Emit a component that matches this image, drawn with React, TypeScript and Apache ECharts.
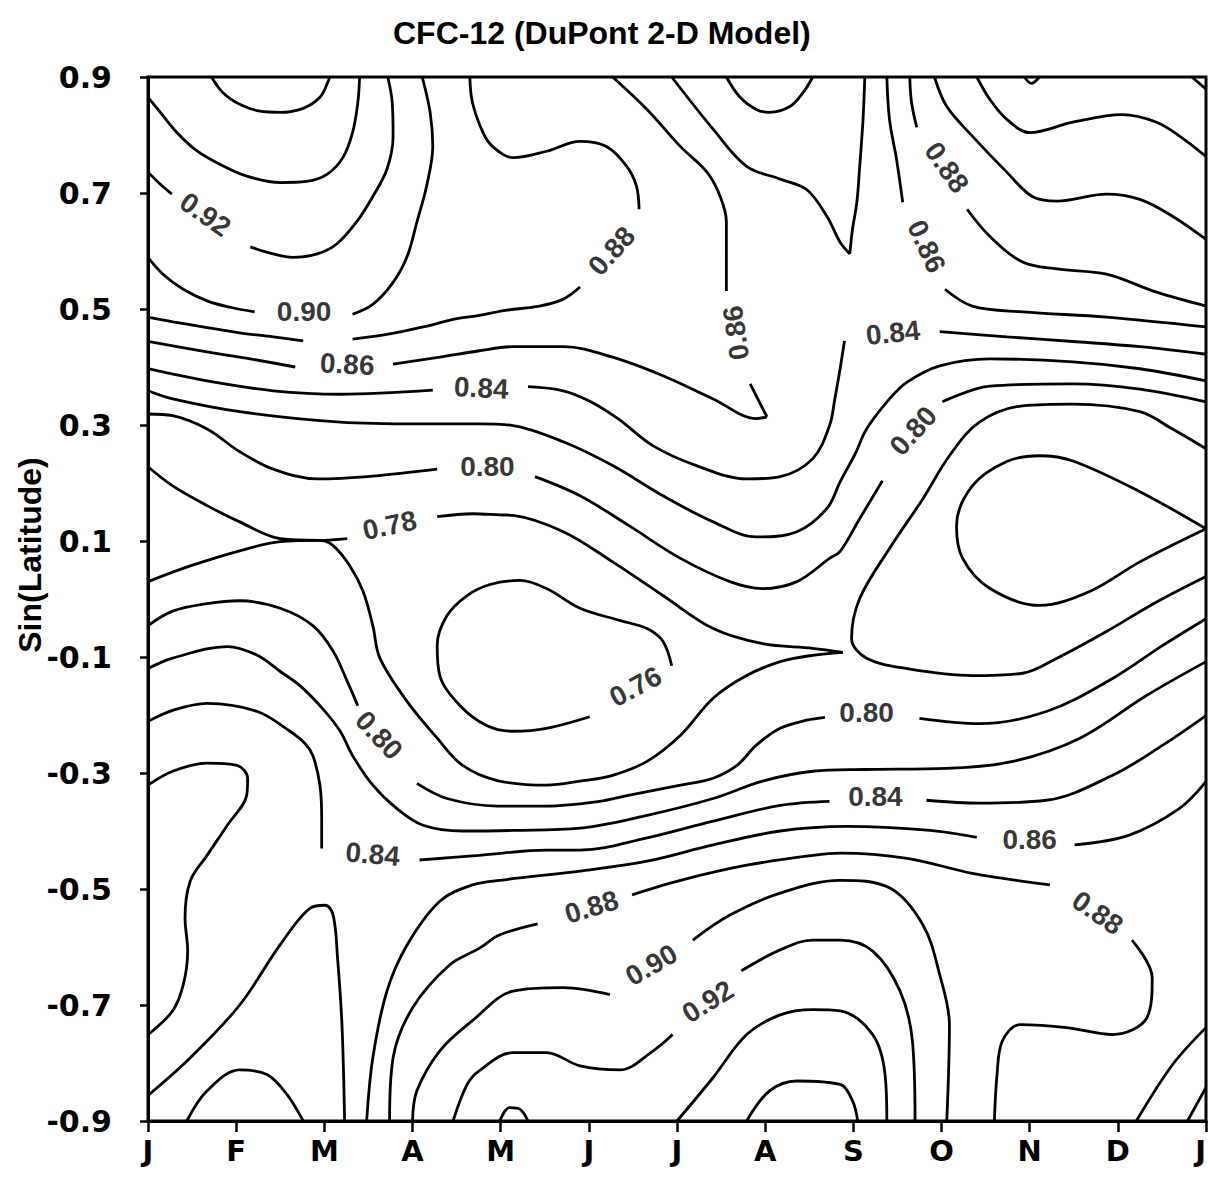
import React, { useEffect, useRef } from 'react';
import * as echarts from 'echarts';

// ---- axes ----
const monthTicks = ['J', 'F', 'M', 'A', 'M', 'J', 'J', 'A', 'S', 'O', 'N', 'D', 'J'];
const latMin = -0.9;
const latMax = 0.9;
const latStep = 0.2;

// ---- contour segments: [month index, sin(latitude)] ----
// upper-left high (F, top)
const c096TopLeft = [[0.72, 0.9], [0.85, 0.873], [1.04, 0.853], [1.27, 0.841], [1.5, 0.839], [1.76, 0.846], [1.95, 0.865], [2.04, 0.891], [2.06, 0.9]];
const c094TopLeft = [[0, 0.865], [0.14, 0.839], [0.33, 0.804], [0.56, 0.772], [0.82, 0.749], [1.12, 0.729], [1.5, 0.718], [1.8, 0.72], [2.03, 0.732], [2.21, 0.761], [2.32, 0.804], [2.38, 0.856], [2.4, 0.9]];
const c092TopA = [[0, 0.736], [0.14, 0.715], [0.27, 0.698]];
const c092TopB = [[1.16, 0.607], [1.42, 0.595], [1.64, 0.589], [1.92, 0.595], [2.14, 0.612], [2.37, 0.651], [2.55, 0.694], [2.71, 0.741], [2.78, 0.798], [2.77, 0.856], [2.72, 0.9]];
const c090TopA = [[0, 0.589], [0.17, 0.56], [0.4, 0.534], [0.67, 0.514], [0.93, 0.503], [1.21, 0.495]];
const c090TopB = [[2.32, 0.491], [2.55, 0.508], [2.78, 0.546], [2.94, 0.591], [3.05, 0.65], [3.16, 0.712], [3.23, 0.78], [3.2, 0.839], [3.11, 0.9]];
const c088TopUpper = [[3.65, 0.9], [3.68, 0.856], [3.8, 0.804], [3.91, 0.78], [4.14, 0.761], [4.52, 0.772], [4.9, 0.789], [5.2, 0.78], [5.43, 0.746], [5.54, 0.712], [5.57, 0.672]];
const c088TopMid = [[4.9, 0.538], [4.71, 0.517], [4.44, 0.505], [4.07, 0.498], [3.76, 0.489], [3.49, 0.483], [3.12, 0.469], [2.74, 0.457], [2.32, 0.448]];
const c088TopLeft = [[0, 0.486], [0.28, 0.478], [0.67, 0.468], [1.04, 0.459], [1.42, 0.452], [1.76, 0.445]];
const c086TopA = [[0, 0.444], [0.67, 0.426], [1.16, 0.414], [1.67, 0.4]];
const c086TopB = [[2.78, 0.405], [3.31, 0.417], [3.76, 0.428], [4.14, 0.435], [4.71, 0.435], [5.27, 0.417], [5.84, 0.385], [6.41, 0.345], [6.9, 0.311], [7.02, 0.314]];
const c086TopTip = [[7.02, 0.314], [6.83, 0.371]];
const c086TopC = [[6.56, 0.531], [6.56, 0.591], [6.56, 0.65], [6.49, 0.694], [6.34, 0.736], [6.04, 0.78], [5.66, 0.844], [5.27, 0.9]];
const c084A = [[0, 0.397], [0.67, 0.376], [1.42, 0.359], [2.18, 0.353], [3.23, 0.36]];
const c084B = [[4.31, 0.366], [4.71, 0.359], [5.01, 0.341], [5.33, 0.311], [5.73, 0.264], [6.22, 0.23], [6.79, 0.207], [7.17, 0.211], [7.54, 0.242], [7.73, 0.299], [7.79, 0.345], [7.85, 0.397], [7.9, 0.445]];
const c084C = [[8.98, 0.461], [9.74, 0.452], [10.49, 0.444], [11.25, 0.435], [12, 0.422]];
const c084VLeft = [[5.94, 0.9], [6.41, 0.81], [6.79, 0.746], [7.17, 0.724], [7.47, 0.706], [7.7, 0.66], [7.85, 0.615], [7.96, 0.595]];
const c084VRight = [[7.96, 0.595], [7.99, 0.637], [8.04, 0.684], [8.07, 0.741], [8.11, 0.827], [8.13, 0.9]];
const c082TopArc = [[6.56, 0.9], [6.71, 0.866], [6.9, 0.844], [7.05, 0.839], [7.28, 0.849], [7.43, 0.873], [7.54, 0.9]];
// upper right
const c086RightTop = [[8.38, 0.9], [8.41, 0.827], [8.49, 0.758], [8.56, 0.684]];
const c086RightB = [[9.04, 0.534], [9.35, 0.505], [9.92, 0.495], [10.87, 0.486], [12, 0.469]];
const c088RightTop = [[8.64, 0.9], [8.66, 0.856], [8.72, 0.813]];
const c088RightB = [[9.29, 0.672], [9.55, 0.625], [9.92, 0.581], [10.31, 0.569], [10.87, 0.56], [11.44, 0.529], [12, 0.505]];
const c090Right = [[8.92, 0.9], [9.06, 0.849], [9.35, 0.798], [9.74, 0.736], [10.03, 0.694], [10.31, 0.686], [10.87, 0.698], [11.25, 0.689], [11.62, 0.66], [12, 0.62]];
const c092Right = [[9.4, 0.9], [9.55, 0.861], [9.74, 0.827], [10.0, 0.804], [10.49, 0.822], [11.05, 0.835], [11.44, 0.822], [11.7, 0.798], [12, 0.763]];
const cTopNotch = [[9.94, 0.9], [10.02, 0.889], [10.11, 0.9]];
const cTopCorner = [[11.84, 0.9], [12, 0.879]];
// middle band
const c082Upper = [[0, 0.359], [0.28, 0.345], [1.04, 0.323], [2.18, 0.305], [3.08, 0.302], [3.76, 0.302], [4.14, 0.299], [4.71, 0.271], [5.27, 0.23], [5.84, 0.178], [6.41, 0.133], [6.9, 0.107], [7.36, 0.116], [7.7, 0.156], [7.85, 0.202], [8.02, 0.25], [8.15, 0.293], [8.41, 0.345], [8.61, 0.374], [8.98, 0.402], [9.55, 0.414], [10.49, 0.409], [11.25, 0.397], [12, 0.376]];
const c080UpperA = [[0, 0.319], [0.28, 0.316], [0.67, 0.293], [1.04, 0.254], [1.42, 0.224], [1.92, 0.207], [2.55, 0.212], [3.28, 0.224]];
const c080UpperB = [[4.39, 0.211], [4.9, 0.178], [5.46, 0.126], [6.04, 0.07], [6.6, 0.03], [6.97, 0.018], [7.36, 0.03], [7.73, 0.07], [7.85, 0.082], [8.07, 0.138], [8.33, 0.204]];
const c080UpperC = [[9.01, 0.34], [9.55, 0.367], [10.49, 0.371], [11.25, 0.362], [12, 0.34]];
const c078Upper = [[0, 0.228], [0.28, 0.195], [0.67, 0.161], [1.04, 0.133], [1.5, 0.104], [1.95, 0.101], [2.26, 0.104]];
const c078Mid = [[3.28, 0.142], [3.68, 0.147], [3.99, 0.145], [4.14, 0.144], [4.71, 0.116], [5.27, 0.064], [5.84, 0.006], [6.41, -0.051], [6.97, -0.077], [7.54, -0.085], [7.88, -0.092]];
const c078Lower = [[0, 0.03], [0.48, 0.057], [1.04, 0.083], [1.5, 0.099], [1.95, 0.101], [2.1, 0.092], [2.29, 0.057], [2.44, 0.013], [2.55, -0.046], [2.63, -0.102], [2.94, -0.177], [3.28, -0.24], [3.57, -0.287], [3.96, -0.313], [4.52, -0.321], [4.9, -0.314], [5.27, -0.304], [5.66, -0.28], [6.04, -0.235], [6.41, -0.171], [6.79, -0.132], [7.17, -0.108], [7.54, -0.097], [7.88, -0.092]];
const c076Loop = [[5.01, -0.203], [4.52, -0.223], [4.14, -0.228], [3.84, -0.218], [3.54, -0.184], [3.31, -0.132], [3.28, -0.08], [3.39, -0.029], [3.62, 0.006], [3.88, 0.025], [4.22, 0.032], [4.52, 0.018], [4.9, -0.016], [5.35, -0.037], [5.66, -0.051], [5.84, -0.073], [5.94, -0.115]];
const c078RightLoop = [[12, 0.259], [11.62, 0.293], [11.25, 0.323], [10.49, 0.336], [9.92, 0.333], [9.43, 0.305], [9.09, 0.247], [8.79, 0.173], [8.41, 0.087], [8.07, 0.0], [7.98, -0.068], [8.15, -0.102], [8.61, -0.12], [9.35, -0.132], [9.92, -0.128], [10.31, -0.102], [10.87, -0.056], [11.44, -0.005], [12, 0.039]];
const c076RightLoop = [[12, 0.121], [11.25, 0.185], [10.49, 0.238], [10.11, 0.247], [9.74, 0.237], [9.35, 0.195], [9.17, 0.126], [9.24, 0.07], [9.55, 0.018], [10.11, -0.011], [10.68, 0.013], [11.25, 0.064], [12, 0.121]];
const c080LowerA = [[0, -0.046], [0.28, -0.021], [0.67, -0.008], [1.04, -0.003], [1.5, -0.016], [1.87, -0.046], [2.1, -0.09], [2.26, -0.142], [2.38, -0.184]];
const c080LowerB = [[3.05, -0.318], [3.39, -0.344], [3.96, -0.357], [4.52, -0.357], [5.12, -0.349], [5.46, -0.338], [6.04, -0.321], [6.41, -0.309], [6.68, -0.287], [6.9, -0.252], [7.17, -0.223], [7.47, -0.209], [7.68, -0.204]];
const c080LowerC = [[8.75, -0.206], [9.43, -0.215], [10.19, -0.194], [10.94, -0.137], [11.51, -0.08], [12, -0.034]];
const c082Lower = [[0, -0.12], [0.28, -0.102], [0.9, -0.082], [1.24, -0.097], [1.5, -0.125], [1.72, -0.149], [1.98, -0.189], [2.18, -0.228], [2.32, -0.27], [2.55, -0.321], [2.82, -0.361], [3.12, -0.39], [3.57, -0.4], [4.14, -0.399], [4.9, -0.395], [5.66, -0.373], [6.41, -0.344], [6.97, -0.314], [7.54, -0.297], [8.11, -0.294], [9.06, -0.292], [9.81, -0.28], [10.57, -0.24], [11.33, -0.166], [12, -0.108]];
const c084LowerA = [[0, -0.211], [0.28, -0.192], [0.67, -0.18], [1.24, -0.194], [1.61, -0.228], [1.78, -0.249], [1.87, -0.27], [1.95, -0.321], [1.97, -0.378], [1.97, -0.43]];
const c084LowerB = [[3.08, -0.45], [3.76, -0.442], [4.52, -0.433], [4.9, -0.433], [5.66, -0.412], [6.41, -0.383], [7.17, -0.356], [7.73, -0.349]];
const c084LowerC = [[8.83, -0.347], [9.43, -0.352], [10.19, -0.347], [10.94, -0.304], [11.51, -0.252], [12, -0.201]];
// lower band
const c086LowerA = [[2.48, -0.9], [2.55, -0.791], [2.71, -0.676], [2.94, -0.596], [3.31, -0.521], [3.68, -0.493], [3.99, -0.485], [4.9, -0.469], [5.66, -0.452], [6.41, -0.424], [7.17, -0.4], [7.92, -0.392], [8.87, -0.399], [9.4, -0.411]];
const c086LowerB = [[10.51, -0.424], [11.13, -0.407], [11.7, -0.361], [12, -0.315]];
const c088LowerA = [[2.74, -0.9], [2.78, -0.791], [3.0, -0.705], [3.42, -0.631], [3.76, -0.602], [3.99, -0.579], [4.42, -0.56]];
const c088LowerB = [[5.49, -0.51], [6.04, -0.485], [6.79, -0.459], [7.54, -0.442], [7.85, -0.438], [8.61, -0.447], [9.35, -0.473], [10.23, -0.493]];
const c088LowerC = [[11.16, -0.588], [11.39, -0.653], [11.33, -0.722], [10.94, -0.751], [10.42, -0.739], [9.89, -0.734], [9.69, -0.762], [9.63, -0.82], [9.6, -0.9]];
const c090LowerA = [[3.0, -0.9], [3.05, -0.848], [3.31, -0.779], [3.68, -0.727], [4.14, -0.676], [4.71, -0.67], [5.24, -0.682]];
const c090LowerB = [[6.18, -0.588], [6.6, -0.545], [7.17, -0.507], [7.85, -0.485], [8.41, -0.498], [8.79, -0.562], [8.98, -0.648], [9.09, -0.734], [9.06, -0.9]];
const c092LowerA = [[3.46, -0.9], [3.62, -0.837], [3.76, -0.813], [4.14, -0.782], [4.52, -0.782], [4.9, -0.805], [5.35, -0.812], [5.73, -0.779], [5.95, -0.751]];
const c092LowerB = [[6.73, -0.641], [7.17, -0.605], [7.54, -0.588], [7.85, -0.588], [8.22, -0.607], [8.53, -0.676], [8.67, -0.762], [8.7, -0.9]];
const c094Lower = [[6.0, -0.9], [6.41, -0.825], [6.79, -0.751], [7.17, -0.717], [7.54, -0.708], [7.85, -0.71], [8.22, -0.751], [8.36, -0.82], [8.38, -0.9]];
const c096Lower = [[6.79, -0.9], [7.05, -0.848], [7.36, -0.831], [7.85, -0.837], [7.99, -0.865], [8.05, -0.9]];
const cBottomBump = [[3.99, -0.9], [4.1, -0.877], [4.22, -0.88], [4.31, -0.9]];
const cLeftLobe = [[0, -0.321], [0.28, -0.297], [0.67, -0.283], [1.01, -0.287], [1.13, -0.309], [1.12, -0.338], [0.9, -0.39], [0.67, -0.442], [0.48, -0.486], [0.42, -0.55], [0.45, -0.607], [0.4, -0.665], [0.28, -0.71], [0, -0.751]];
const cMarchRidge = [[0, -0.856], [0.48, -0.791], [1.04, -0.7], [1.5, -0.596], [1.84, -0.533], [2.01, -0.528], [2.1, -0.545], [2.15, -0.619], [2.2, -0.734], [2.23, -0.9]];
const cBottomLeftArc = [[0.44, -0.9], [0.67, -0.848], [1.04, -0.812], [1.35, -0.82], [1.58, -0.855], [1.76, -0.9]];
const cBottomRight1 = [[11.21, -0.9], [11.62, -0.803], [12, -0.739]];
const cBottomRight2 = [[11.79, -0.9], [12, -0.842]];

const contourSegments = [
  c096TopLeft, c094TopLeft, c092TopA, c092TopB, c090TopA, c090TopB,
  c088TopUpper, c088TopMid, c088TopLeft, c086TopA, c086TopB, c086TopTip, c086TopC,
  c084A, c084B, c084C, c084VLeft, c084VRight, c082TopArc,
  c086RightTop, c086RightB, c088RightTop, c088RightB, c090Right, c092Right, cTopNotch, cTopCorner,
  c082Upper, c080UpperA, c080UpperB, c080UpperC, c078Upper, c078Mid, c078Lower, c076Loop,
  c078RightLoop, c076RightLoop, c080LowerA, c080LowerB, c080LowerC, c082Lower,
  c084LowerA, c084LowerB, c084LowerC, c086LowerA, c086LowerB,
  c088LowerA, c088LowerB, c088LowerC, c090LowerA, c090LowerB, c092LowerA, c092LowerB,
  c094Lower, c096Lower, cBottomBump, cLeftLobe, cMarchRidge, cBottomLeftArc, cBottomRight1, cBottomRight2,
];

// ---- contour labels: text, position [month, sin(lat)], angle ----
const labelTexts = ['0.92', '0.90', '0.88', '0.86', '0.84', '0.86', '0.88', '0.86', '0.84', '0.80', '0.80', '0.78', '0.76', '0.80', '0.80', '0.84', '0.84', '0.86', '0.88', '0.88', '0.90', '0.92'];
const labelPositions = [[0.65, 0.663], [1.77, 0.496], [5.26, 0.6], [2.26, 0.405], [3.78, 0.364], [6.67, 0.459], [9.06, 0.744], [8.83, 0.608], [8.45, 0.459], [8.68, 0.29], [3.85, 0.228], [2.74, 0.127], [5.53, -0.151], [2.62, -0.235], [8.15, -0.196], [2.55, -0.44], [8.25, -0.341], [10.0, -0.415], [5.03, -0.531], [10.77, -0.541], [5.71, -0.631], [6.35, -0.694]];
const labelAngles = [-35, 0, 48, -3, -3, 98, -55, -65, 6, 48, 0, 12, 28, -47, 0, -5, 0, 0, 17, -35, 30, 32];

export default function App() {
  const ref = useRef<HTMLDivElement>(null);
  useEffect(() => {
    document.body.style.margin = '0';
    const chart = echarts.init(ref.current as HTMLDivElement, null, { renderer: 'svg' });
    const font = '"Liberation Sans", Arial, Helvetica, sans-serif';
    const tickFont = '"DejaVu Sans", Verdana, sans-serif';
    const lineSeries = contourSegments.map((seg) => ({
      type: 'line',
      data: seg,
      showSymbol: false,
      symbol: 'none',
      smooth: 0.35,
      silent: true,
      lineStyle: { color: '#000', width: 2.8 },
      z: 2,
    }));
    const labelSeries = {
      type: 'scatter',
      symbolSize: 1,
      silent: true,
      itemStyle: { color: 'rgba(0,0,0,0)' },
      z: 5,
      label: { show: true, position: 'inside', color: '#000', fontSize: 28, fontWeight: 'bold', fontFamily: font },
      data: labelTexts.map((t, i) => ({
        value: labelPositions[i],
        label: { show: true, formatter: t, rotate: labelAngles[i] },
      })),
    };
    chart.setOption({
      animation: false,
      title: {
        text: 'CFC-12 (DuPont 2-D Model)',
        left: 388,
        top: 12,
        textStyle: { fontSize: 32, fontWeight: 'bold', fontFamily: font, color: '#000' },
      },
      graphic: [
        {
          type: 'text',
          x: 30,
          y: 555,
          rotation: Math.PI / 2,
          style: {
            text: 'Sin(Latitude)',
            fill: '#000',
            fontSize: 32,
            fontWeight: 'bold',
            fontFamily: font,
            align: 'center',
            verticalAlign: 'middle',
          },
        },
      ],
      grid: {
        left: 148,
        right: 2,
        top: 77,
        bottom: 65,
        show: true,
        borderColor: '#000',
        borderWidth: 3,
        outerBoundsMode: 'none',
        containLabel: false,
      },
      xAxis: {
        type: 'value',
        min: 0,
        max: 12,
        interval: 1,
        axisLine: { show: true, onZero: false, lineStyle: { color: '#000', width: 3 } },
        axisTick: { show: true, inside: false, length: 11, lineStyle: { color: '#000', width: 2.5 } },
        axisLabel: {
          formatter: (v: number) => monthTicks[Math.round(v)],
          color: '#000',
          fontFamily: tickFont,
          fontWeight: 'bold',
          fontSize: 29,
          margin: 15,
          alignMaxLabel: 'right',
        },
        splitLine: { show: false },
      },
      yAxis: {
        type: 'value',
        min: latMin,
        max: latMax,
        interval: latStep,
        axisLine: { show: true, onZero: false, lineStyle: { color: '#000', width: 3 } },
        axisTick: { show: true, inside: false, length: 8, lineStyle: { color: '#000', width: 2.5 } },
        axisLabel: {
          formatter: (v: number) => (Math.round(v * 10) / 10).toFixed(1),
          color: '#000',
          fontFamily: tickFont,
          fontWeight: 'bold',
          fontSize: 30,
          margin: 36,
        },
        splitLine: { show: false },
      },
      series: [...lineSeries, labelSeries],
    });
    return () => chart.dispose();
  }, []);
  return <div ref={ref} style={{ width: 1208, height: 1186 }} />;
}
